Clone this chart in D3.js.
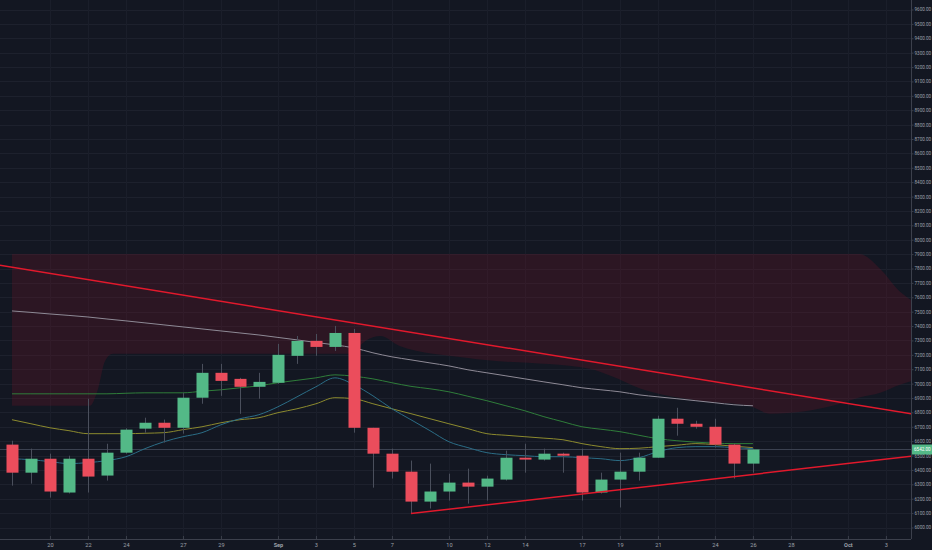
<!doctype html>
<html>
<head>
<meta charset="utf-8"/>
<title>BTCUSD</title>
<style>
html,body{margin:0;padding:0;background:#131722;overflow:hidden;}
svg{display:block;}
</style>
<script src="https://d3js.org/d3.v7.min.js"></script>
</head>
<body>
<script>
// daily candles, 18 Aug - 26 Sep
var dates = ["2018-08-18","2018-08-19","2018-08-20","2018-08-21","2018-08-22","2018-08-23","2018-08-24","2018-08-25",
  "2018-08-26","2018-08-27","2018-08-28","2018-08-29","2018-08-30","2018-08-31","2018-09-01","2018-09-02",
  "2018-09-03","2018-09-04","2018-09-05","2018-09-06","2018-09-07","2018-09-08","2018-09-09","2018-09-10",
  "2018-09-11","2018-09-12","2018-09-13","2018-09-14","2018-09-15","2018-09-16","2018-09-17","2018-09-18",
  "2018-09-19","2018-09-20","2018-09-21","2018-09-22","2018-09-23","2018-09-24","2018-09-25","2018-09-26"];
var open  = [6576,6381,6478,6243,6478,6361,6520,6687,6728,6693,6902,7075,7033,6978,7006,7193,7297,7255,7352,6693,
  6513,6388,6180,6250,6312,6284,6333,6485,6472,6513,6499,6243,6333,6388,6485,6756,6721,6700,6576,6444];
var high  = [6603,6548,6513,6499,6895,6582,6690,6763,6750,6936,7137,7137,7040,7075,7276,7331,7345,7401,7380,6693,
  6548,6465,6444,6374,6409,6360,6534,6582,6548,6520,6548,6381,6520,6520,6777,6832,6742,6756,6582,6548];
var low   = [6291,6305,6208,6236,6243,6326,6513,6659,6590,6652,6860,6915,6790,6895,6998,7137,7193,7227,6659,6277,
  6340,6097,6132,6187,6166,6187,6326,6381,6465,6381,6187,6236,6139,6326,6485,6638,6687,6555,6340,6381];
var close = [6381,6478,6250,6478,6354,6520,6680,6728,6693,6902,7075,7019,6978,7012,7200,7297,7255,7352,6693,6513,
  6388,6180,6250,6312,6284,6340,6485,6472,6513,6499,6243,6333,6388,6485,6756,6721,6700,6576,6444,6542];

// moving averages
var maGrey = [7505,7495,7484,7474,7463,7449,7436,7422,7408,7394,7380,7366,7352,7338,7321,7304,7286,7269,7248,7214,
  7186,7165,7144,7123,7096,7075,7054,7033,7012,6992,6971,6957,6943,6922,6908,6895,6881,6867,6853,6846];
var maGreen = [6929,6929,6929,6929,6929,6929,6933,6936,6936,6936,6947,6957,6971,6985,7006,7023,7040,7061,7051,7033,
  7006,6981,6964,6943,6912,6881,6846,6811,6770,6735,6700,6683,6666,6641,6617,6603,6593,6586,6583,6583];
var maYellow = [6749,6721,6693,6673,6652,6652,6652,6655,6659,6680,6700,6728,6749,6763,6798,6825,6860,6902,6895,6860,
  6825,6791,6756,6721,6687,6652,6641,6631,6621,6610,6583,6562,6548,6551,6562,6572,6583,6576,6565,6555];
var maTeal = [6478,6471,6458,6444,6451,6465,6492,6548,6596,6631,6659,6714,6756,6784,6839,6908,6978,7040,6992,6915,
  6825,6749,6673,6596,6555,6520,6506,6499,6492,6492,6485,6478,6465,6485,6527,6555,6562,6562,6555,6548];

// shaded zone (days after 18 Aug, upper and lower price)
var zoneDay    = [0,4.1,4.5,4.9,5.3,17.8,18.6,19.4,20.4,23.9,30.4,31.5,33.1,36.2,38.8,39.9,43.6,44.6,45.7,46.7,47.4];
var zoneTop    = [7900,7900,7900,7900,7900,7900,7900,7900,7900,7900,7900,7900,7900,7900,7900,7900,7900,7900,7796,7644,7574];
var zoneBottom = [6846,6846,6950,7158,7207,7207,7297,7331,7262,7179,7103,7054,6964,6881,6846,6791,6860,6903,6936,6990,7019];

// trend lines
var resistDates = ["2018-08-17","2018-10-05"];
var resistPrice = [7830,6776];
var supportDates = ["2018-09-08","2018-10-05"];
var supportPrice = [6097,6505];

var tickDates = ["2018-08-20","2018-08-22","2018-08-24","2018-08-27","2018-08-29","2018-09-01","2018-09-03","2018-09-05",
  "2018-09-07","2018-09-10","2018-09-12","2018-09-14","2018-09-17","2018-09-19","2018-09-21","2018-09-24","2018-09-26",
  "2018-09-28","2018-10-01","2018-10-03"];
var tickLabels = ["20","22","24","27","29","Sep","3","5","7","10","12","14","17","19","21","24","26","28","Oct","3"];
var lastPrice = 6542;

var W = 932, H = 550;
var plotW = 911, plotH = 539;

var svg = d3.select("body").append("svg")
  .attr("width", W)
  .attr("height", H);

svg.append("rect").attr("width", W).attr("height", H).attr("fill", "#131722");

var parse = d3.utcParse("%Y-%m-%d");
var day = 864e5;
var sep1 = parse("2018-09-01");
var x = d3.scaleUtc()
  .domain([new Date(+sep1 - 14.63 * day), new Date(+sep1 + 33.32 * day)])
  .range([0, plotW]);
var y = d3.scaleLinear().domain([6000, 9600]).range([527.5, 9.5]);

var candles = dates.map(function(d, i){
  return {date: parse(d), o: open[i], h: high[i], l: low[i], c: close[i]};
});

svg.append("defs").append("clipPath").attr("id", "plot")
  .append("rect").attr("width", plotW).attr("height", plotH);

var g = svg.append("g").attr("clip-path", "url(#plot)");

// grid
g.selectAll(".hg").data(d3.range(6000, 9700, 100)).enter().append("line")
  .attr("x1", 0).attr("x2", plotW)
  .attr("y1", function(d){ return Math.round(y(d)) + 0.5; })
  .attr("y2", function(d){ return Math.round(y(d)) + 0.5; })
  .attr("stroke", "#1d212d").attr("stroke-width", 1);
g.selectAll(".vg").data(tickDates).enter().append("line")
  .attr("x1", function(d){ return Math.round(x(parse(d))) + 0.5; })
  .attr("x2", function(d){ return Math.round(x(parse(d))) + 0.5; })
  .attr("y1", 0).attr("y2", plotH)
  .attr("stroke", "#1a1e2a").attr("stroke-width", 1);

// shaded zone
var start = parse(dates[0]);
var zone = zoneDay.map(function(d, i){
  return {date: new Date(+start + d * day), top: zoneTop[i], bot: zoneBottom[i]};
});
g.append("path").datum(zone)
  .attr("d", d3.area()
    .x(function(d){ return x(d.date); })
    .y0(function(d){ return y(d.bot); })
    .y1(function(d){ return y(d.top); })
    .curve(d3.curveMonotoneX))
  .attr("fill", "rgba(120,20,40,0.25)");

// last price line
g.append("line")
  .attr("x1", 0).attr("x2", plotW)
  .attr("y1", y(lastPrice)).attr("y2", y(lastPrice))
  .attr("stroke", "#3b4150").attr("stroke-width", 1);

// moving averages
function maLine(values, color, width){
  g.append("path").datum(values)
    .attr("d", d3.line()
      .x(function(d, i){ return x(parse(dates[i])); })
      .y(function(d){ return y(d); })
      .curve(d3.curveMonotoneX))
    .attr("fill", "none")
    .attr("stroke", color)
    .attr("stroke-width", width);
}
maLine(maGrey, "#8e8a96", 1);
maLine(maGreen, "#2f7d3a", 1);
maLine(maYellow, "#8c8a2e", 1);
maLine(maTeal, "#2b6d86", 1);

// candles
var bw = 12;
g.selectAll(".wick").data(candles).enter().append("line")
  .attr("x1", function(d){ return Math.round(x(d.date)) + 0.5; })
  .attr("x2", function(d){ return Math.round(x(d.date)) + 0.5; })
  .attr("y1", function(d){ return y(d.h); })
  .attr("y2", function(d){ return y(d.l); })
  .attr("stroke", "#4a4f5c").attr("stroke-width", 1);
g.selectAll(".body").data(candles).enter().append("rect")
  .attr("x", function(d){ return Math.round(x(d.date)) - bw / 2 + 0.5; })
  .attr("y", function(d){ return y(Math.max(d.o, d.c)); })
  .attr("width", bw)
  .attr("height", function(d){ return Math.max(1, Math.abs(y(d.o) - y(d.c))); })
  .attr("fill", function(d){ return d.c >= d.o ? "#53b987" : "#eb4d5c"; });

// trend lines
function trend(ds, ps){
  g.append("line")
    .attr("x1", x(parse(ds[0]))).attr("y1", y(ps[0]))
    .attr("x2", x(parse(ds[1]))).attr("y2", y(ps[1]))
    .attr("stroke", "#e2192c").attr("stroke-width", 1.5);
}
trend(resistDates, resistPrice);
trend(supportDates, supportPrice);

// axes
svg.append("line").attr("x1", plotW + 0.5).attr("x2", plotW + 0.5).attr("y1", 0).attr("y2", plotH)
  .attr("stroke", "#3c404c");
svg.append("line").attr("x1", 0).attr("x2", plotW).attr("y1", plotH + 0.5).attr("y2", plotH + 0.5)
  .attr("stroke", "#3c404c");

var yAxis = d3.axisRight(y)
  .tickValues(d3.range(6000, 9700, 100))
  .tickFormat(function(d){ return d3.format(".2f")(d); })
  .tickSize(2).tickPadding(1);
var ya = svg.append("g").attr("transform", "translate(" + (plotW + 0.5) + ",0)").call(yAxis);
ya.select(".domain").remove();
ya.selectAll("line").attr("stroke", "#3c404c");
ya.selectAll("text").attr("fill", "#9ea1aa").attr("font-size", "4.6px")
  .attr("font-family", "Roboto, 'DejaVu Sans', sans-serif");

var xAxis = d3.axisBottom(x)
  .tickValues(tickDates.map(parse))
  .tickFormat(function(d, i){ return tickLabels[i]; })
  .tickSize(0).tickPadding(4);
var xa = svg.append("g").attr("transform", "translate(0," + plotH + ")").call(xAxis);
xa.select(".domain").remove();
xa.selectAll("text").attr("fill", "#9ea1aa").attr("font-size", "5.6px")
  .attr("font-family", "Roboto, 'DejaVu Sans', sans-serif")
  .attr("font-weight", function(d, i){ return (tickLabels[i] == "Sep" || tickLabels[i] == "Oct") ? "bold" : "normal"; });
xa.selectAll(".tick").append("line")
  .attr("y1", -3).attr("y2", 0).attr("stroke", "#3c404c");

// last price tag
var tag = svg.append("g").attr("transform", "translate(" + (plotW + 1) + "," + y(lastPrice) + ")");
tag.append("rect").attr("x", 0).attr("y", -5).attr("width", 20).attr("height", 10).attr("fill", "#53b987");
tag.append("text").attr("x", 2).attr("y", 1.8)
  .attr("fill", "#ffffff").attr("font-size", "4.6px")
  .attr("font-family", "Roboto, 'DejaVu Sans', sans-serif")
  .text(d3.format(".2f")(lastPrice));
</script>
</body>
</html>
